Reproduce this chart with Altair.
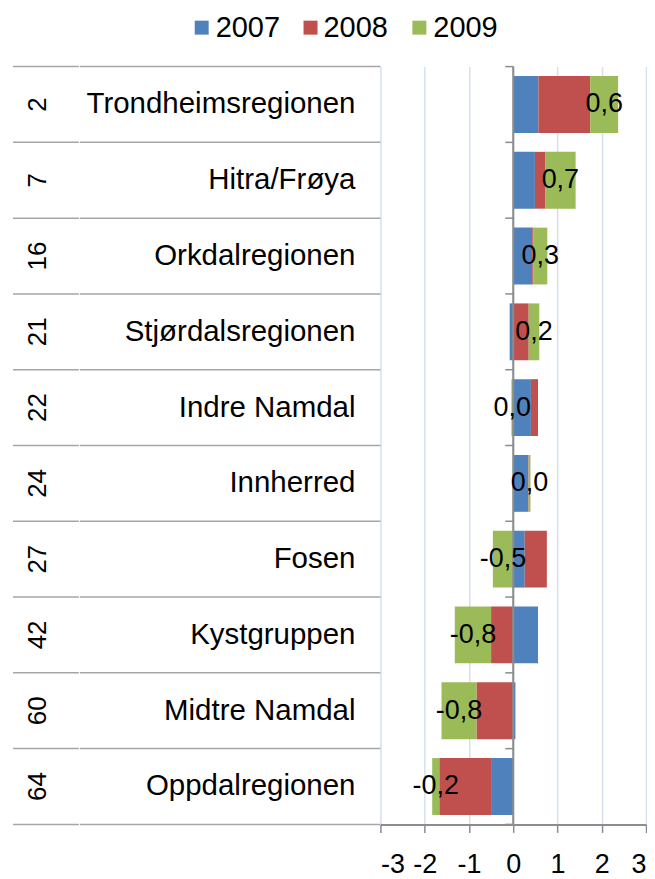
import altair as alt
import pandas as pd

regions = ["Trondheimsregionen", "Hitra/Frøya", "Orkdalregionen", "Stjørdalsregionen",
           "Indre Namdal", "Innherred", "Fosen", "Kystgruppen", "Midtre Namdal", "Oppdalregionen"]
ranks = ["2", "7", "16", "21", "22", "24", "27", "42", "60", "64"]
years = ["2007", "2008", "2009"]
v2007 = [0.57, 0.49, 0.43, -0.08, 0.40, 0.34, 0.26, 0.56, 0.05, -0.50]
v2008 = [1.17, 0.23, 0.02, 0.35, 0.16, 0.01, 0.50, -0.50, -0.83, -1.17]
v2009 = [0.63, 0.69, 0.32, 0.24, -0.04, 0.04, -0.46, -0.82, -0.79, -0.16]
colors = ["#4F81BD", "#C0504D", "#9BBB59"]
x_ticks = [-3, -2, -1, 0, 1, 2, 3]

FONT = "Liberation Sans"
N = len(regions)
W, H = 266, 759
U = W / 6.0        # pixels per x unit
V = H / float(N)   # pixels per y unit


def px(p):
    # x value (data units) of a pixel offset from the plot's left edge
    return -3 + p / U


def py(p):
    # y value (data units) of a pixel offset from the plot's top edge
    return p / V


def fmt(v):
    s = f"{v:.1f}".replace(".", ",")
    return "0,0" if s == "-0,0" else s


# diverging stack (positives and negatives stacked separately, in series order)
rows = []
for i, r in enumerate(regions):
    pos, neg = 0.0, 0.0
    for y, vals in zip(years, [v2007, v2008, v2009]):
        v = vals[i]
        if v >= 0:
            x0, x1 = pos, pos + v
            pos = x1
        else:
            x0, x1 = neg, neg + v
            neg = x1
        rows.append({"region": r, "year": y, "value": v, "label": fmt(v),
                     "x0": x0, "x1": x1, "xm": (x0 + x1) / 2,
                     "y0": i + 0.125, "y1": i + 0.875, "ym": i + 0.5})
df = pd.DataFrame(rows)
df_lab = df[df["year"] == "2009"].reset_index(drop=True)

cats = pd.DataFrame({"region": regions, "rank": ranks,
                     "ym": [i + 0.5 for i in range(N)],
                     "nx": [px(-25)] * N, "rx": [px(-343)] * N})
bounds = pd.DataFrame({"b": list(range(N + 1))})
bounds["z"] = 0.0
bounds["zt"] = -0.18
bounds["top"] = float(N)
bounds["r0"] = px(-368)
bounds["r1"] = px(-302)
bounds["n0"] = px(-301)
bounds["n1"] = px(0)
zline = bounds[bounds["b"] == 0].reset_index(drop=True)

leg = pd.DataFrame({"year": years,
                    "sx": [px(-179), px(-70), px(39)],
                    "tx": [px(-165), px(-57), px(53)],
                    "ly": [py(-39)] * 3})

yscale = alt.Scale(domain=[0, N], reverse=True, nice=False, zero=False)
xscale = alt.Scale(domain=[-3, 3], nice=False, zero=False)
cscale = alt.Scale(domain=years, range=colors)

XAXIS = alt.Axis(values=x_ticks, grid=True, gridColor="#D5E0EE", gridWidth=1.5,
                 domainColor="#8C8C8C", domainWidth=2, tickColor="#8C8C8C",
                 tickWidth=1.5, tickSize=8, labelFont=FONT, labelFontSize=27,
                 labelColor="black", labelPadding=19, labelOverlap=False,
                 labelExpr="'' + datum.value", title=None)


def X(f):
    return alt.X(f, scale=xscale, axis=XAXIS, title=None)


def Y(f):
    return alt.Y(f, scale=yscale, axis=None, title=None)


bars = alt.Chart(df).mark_bar().encode(
    x=X("x0:Q"),
    x2="x1:Q",
    y=Y("y0:Q"),
    y2="y1:Q",
    color=alt.Color("year:N", scale=cscale, legend=None),
)

labels = alt.Chart(df_lab).mark_text(
    font=FONT, fontSize=27, color="black", align="center", baseline="middle"
).encode(x=X("xm:Q"), y=Y("ym:Q"), text="label:N")

zero_line = alt.Chart(zline).mark_rule(color="#8C8C8C", strokeWidth=2).encode(
    x=X("z:Q"), y=Y("b:Q"), y2="top:Q")

zero_ticks = alt.Chart(bounds).mark_rule(color="#8C8C8C", strokeWidth=1.5).encode(
    x=X("z:Q"), x2="zt:Q", y=Y("b:Q"))

sep_rank = alt.Chart(bounds).mark_rule(color="#A6A6A6", strokeWidth=1.5).encode(
    x=X("r0:Q"), x2="r1:Q", y=Y("b:Q"))
sep_name = alt.Chart(bounds).mark_rule(color="#A6A6A6", strokeWidth=1.5).encode(
    x=X("n0:Q"), x2="n1:Q", y=Y("b:Q"))

name_text = alt.Chart(cats).mark_text(font=FONT, fontSize=29.5, color="black", align="right",
                                      baseline="middle").encode(
    x=X("nx:Q"), y=Y("ym:Q"), text="region:N")
rank_text = alt.Chart(cats).mark_text(font=FONT, fontSize=26, color="black", align="center",
                                      baseline="middle", angle=270).encode(
    x=X("rx:Q"), y=Y("ym:Q"), text="rank:N")

leg_sq = alt.Chart(leg).mark_square(size=196, opacity=1).encode(
    x=X("sx:Q"), y=Y("ly:Q"),
    color=alt.Color("year:N", scale=cscale, legend=None),
)
leg_tx = alt.Chart(leg).mark_text(font=FONT, fontSize=29, color="black", align="left",
                                  baseline="middle").encode(
    x=X("tx:Q"), y=Y("ly:Q"), text="year:N")

chart = alt.layer(bars, sep_rank, sep_name, zero_line, zero_ticks, labels,
                  name_text, rank_text, leg_sq, leg_tx).properties(
    width=W, height=H,
    padding={"left": 4, "top": 5, "right": 0, "bottom": 0},
).configure_view(stroke=None)

chart.save("out.html", embed_options={"renderer": "svg", "actions": False})
